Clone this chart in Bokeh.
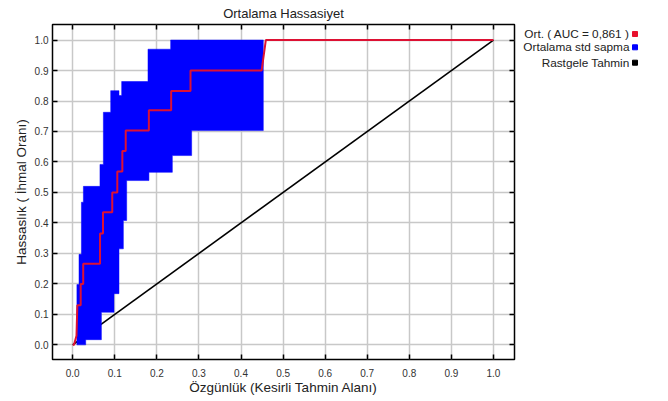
from bokeh.plotting import figure
from bokeh.models import Range1d, LinearAxis, FixedTicker
from bokeh.layouts import row
from bokeh.core.properties import value
from bokeh.embed import file_html
from bokeh.resources import INLINE

# ---- data ----
mean_fpr = [0.0, 0.003, 0.009, 0.011, 0.019, 0.019, 0.025, 0.025, 0.065, 0.065, 0.072, 0.072,
            0.094, 0.094, 0.106, 0.106, 0.118, 0.118, 0.126, 0.126, 0.181, 0.181, 0.234, 0.234,
            0.280, 0.280, 0.449, 0.459, 1.0]
mean_tpr = [0.0, 0.0, 0.03, 0.13, 0.13, 0.20, 0.20, 0.266, 0.266, 0.365, 0.365, 0.435,
            0.435, 0.50, 0.50, 0.569, 0.569, 0.636, 0.636, 0.703, 0.703, 0.770, 0.770, 0.833,
            0.833, 0.90, 0.90, 1.0, 1.0]

upper_fpr = [0.010, 0.010, 0.015, 0.015, 0.0207, 0.0207, 0.0254, 0.0254, 0.0648, 0.0648, 0.0729,
             0.0729, 0.0903, 0.0903, 0.110, 0.110, 0.1164, 0.1164, 0.1789, 0.1789, 0.2328, 0.2328, 0.453]
upper_tpr = [0.0, 0.198, 0.198, 0.297, 0.297, 0.468, 0.468, 0.52, 0.52, 0.592, 0.592,
             0.763, 0.763, 0.834, 0.834, 0.818, 0.818, 0.864, 0.864, 0.970, 0.970, 1.0, 1.0]

lower_fpr = [0.010, 0.0309, 0.0309, 0.0682, 0.0682, 0.0981, 0.0981, 0.110, 0.110, 0.1204, 0.1204,
             0.1283, 0.1283, 0.1812, 0.1812, 0.2368, 0.2368, 0.2827, 0.2827, 0.453, 0.453]
lower_tpr = [0.0, 0.0, 0.017, 0.017, 0.107, 0.107, 0.168, 0.168, 0.315, 0.315, 0.408,
             0.408, 0.539, 0.539, 0.566, 0.566, 0.621, 0.621, 0.703, 0.703, 1.0]

chance_fpr = [0.0, 1.0]
chance_tpr = [0.0, 1.0]

ticks = [0.0, 0.1, 0.2, 0.3, 0.4, 0.5, 0.6, 0.7, 0.8, 0.9, 1.0]
tick_labels = {t: f"{t:.1f}" for t in ticks}

legend_labels = ["Ort. ( AUC = 0,861 )", "Ortalama std sapma", "Rastgele Tahmin"]
legend_colors = ["#e8112d", "#0000ff", "#000000"]

FONT = "Liberation Sans"
FW, FH = 462, 335

p = figure(frame_width=FW, frame_height=FH, output_backend="svg", toolbar_location=None,
           x_range=Range1d(-0.048, 1.05), y_range=Range1d(-0.048, 1.051),
           min_border_left=52, min_border_right=4, min_border_top=0, min_border_bottom=0,
           title="Ortalama Hassasiyet")
p.title.align = "center"
p.title.text_font = FONT
p.title.text_font_size = "13px"
p.title.text_font_style = "normal"
p.title.text_color = "#222222"
p.title.standoff = 6.5

p.outline_line_color = "#000000"
p.outline_line_width = 1.5
p.background_fill_color = "white"
p.border_fill_color = "white"

for ax in (p.xaxis[0], p.yaxis[0]):
    ax.ticker = FixedTicker(ticks=ticks)
    ax.major_label_overrides = tick_labels
    ax.major_tick_in = 5
    ax.major_tick_out = 0
    ax.minor_tick_line_color = None
    ax.axis_line_color = None
    ax.major_tick_line_color = "#000000"
    ax.major_tick_line_width = 1.5
    ax.major_label_text_font = FONT
    ax.major_label_text_font_size = "10px"
    ax.major_label_text_color = "#333333"
    ax.axis_label_text_font = FONT
    ax.axis_label_text_font_size = "13.5px"
    ax.axis_label_text_font_style = "normal"
    ax.axis_label_text_color = "#222222"

p.xaxis.axis_label = "Özgünlük (Kesirli Tahmin Alanı)"
p.yaxis.axis_label = "Hassaslık ( İhmal Oranı)"
p.xaxis.major_label_standoff = 9
p.yaxis.major_label_standoff = 4
p.xaxis.axis_label_standoff = 0
p.yaxis.axis_label_standoff = 3

for loc in ("above", "right"):
    a = LinearAxis(ticker=FixedTicker(ticks=ticks), major_tick_in=5, major_tick_out=0,
                   minor_tick_line_color=None, axis_line_color=None,
                   major_tick_line_color="#000000", major_tick_line_width=1.5,
                   major_label_text_font_size="1px", major_label_text_alpha=0,
                   major_label_standoff=0)
    p.add_layout(a, loc)

p.xgrid.ticker = FixedTicker(ticks=ticks)
p.ygrid.ticker = FixedTicker(ticks=ticks)
p.grid.grid_line_color = "#c8c8c8"
p.grid.grid_line_width = 1.5

# diagonal (chance)
p.line(chance_fpr, chance_tpr, line_color="#000000", line_width=1.6)
# std band
band_x = upper_fpr + lower_fpr[::-1]
band_y = upper_tpr + lower_tpr[::-1]
p.patch(band_x, band_y, fill_color="#0000ff", line_color="#0000ff", line_width=0.5)
# mean ROC
p.line(mean_fpr, mean_tpr, line_color="#dd1133", line_width=2)

# ---- legend panel (text right-aligned, marker on the right) ----
LW = 136
lg = figure(frame_width=LW, frame_height=FH, output_backend="svg", toolbar_location=None,
            x_range=Range1d(0, LW), y_range=Range1d(0, FH),
            min_border=0, outline_line_color=None)
lg.axis.visible = False
lg.grid.visible = False
lg.background_fill_color = "white"
lg.border_fill_color = "white"
rows_y = [FH - 9.5, FH - 22.8, FH - 38.2]
lg.text(x=[111] * 3, y=rows_y, text=legend_labels, text_align="right",
        text_baseline="middle", text_font=value(FONT), text_font_size="11.8px",
        text_color="#222222")
lg.scatter(x=[116.5] * 3, y=rows_y, marker="square", size=5, fill_color=legend_colors,
           line_color=legend_colors)

layout = row(p, lg)
open("out.html", "w").write(file_html(layout, INLINE))
